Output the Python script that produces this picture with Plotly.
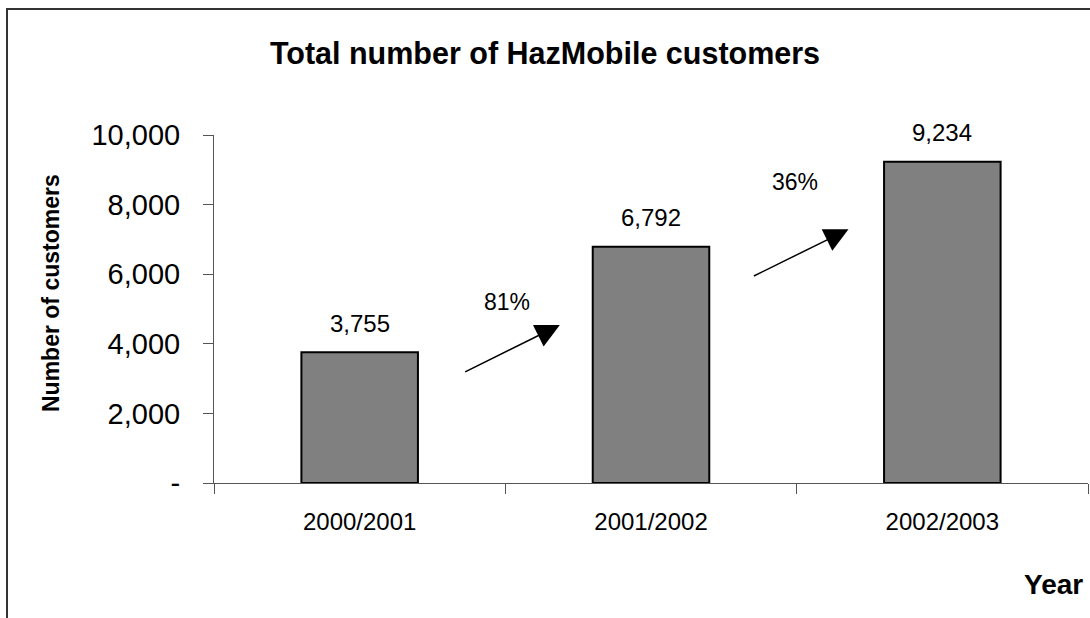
import plotly.graph_objects as go

categories = ["2000/2001", "2001/2002", "2002/2003"]
customers = [3755, 6792, 9234]
y_tick_vals = [0, 2000, 4000, 6000, 8000, 10000]
y_tick_text = ["-", "2,000", "4,000", "6,000", "8,000", "10,000"]

W, H = 1090, 618
L, R, T, B = 214, 2, 135, 135
PW, PH = W - L - R, H - T - B

def px(x):
    return (x - L) / PW

def py(y):
    return (H - B - y) / PH

FONT = "Liberation Sans, Arial, sans-serif"

fig = go.Figure()
fig.add_trace(go.Bar(
    x=categories, y=customers, width=0.4,
    marker=dict(color="#808080", line=dict(color="black", width=2)),
    hoverinfo="skip", showlegend=False,
))

# value labels
for c, v in zip(categories, customers):
    fig.add_annotation(x=c, y=v, text=f"{v:,}", showarrow=False, yanchor="middle",
                       yshift=29, font=dict(family=FONT, size=24, color="black"))

# growth arrows and percentages
growth = [round((customers[i + 1] / customers[i] - 1) * 100) for i in range(len(customers) - 1)]
arrow_pos = [((0.357, 3170), (0.687, 4540), (0.506, 5210)),
             ((1.348, 5928), (1.678, 7290), (1.494, 8658))]
for g, (start, end, lab) in zip(growth, arrow_pos):
    fig.add_annotation(x=end[0], y=end[1], ax=start[0], ay=start[1], xref="x", yref="y",
                       axref="x", ayref="y", showarrow=True, arrowhead=2, arrowsize=3.2,
                       arrowwidth=1.5, arrowcolor="black", text="")
    fig.add_annotation(x=lab[0], y=lab[1], xref="x", yref="y", text=f"{g}%", showarrow=False,
                       font=dict(family=FONT, size=23, color="black"))

# axis titles
fig.add_annotation(x=px(51), y=py(293), xref="paper", yref="paper", text="<b>Number of customers</b>",
                   textangle=-90, showarrow=False, xanchor="center", yanchor="middle",
                   font=dict(family=FONT, size=23, color="black"))
fig.add_annotation(x=px(1053), y=py(584), xref="paper", yref="paper", text="<b>Year</b>",
                   showarrow=False, xanchor="center", yanchor="middle",
                   font=dict(family=FONT, size=28, color="black"))

# outer border
fig.add_shape(type="rect", xref="paper", yref="paper", x0=px(7), y0=py(640), x1=px(1100), y1=py(9),
              line=dict(color="#333333", width=2), fillcolor="rgba(0,0,0,0)", layer="below")

fig.update_layout(
    width=W, height=H,
    margin=dict(l=L, r=R, t=T, b=B, pad=0),
    paper_bgcolor="white", plot_bgcolor="white",
    title=dict(text="<b>Total number of HazMobile customers</b>", x=0.5, xanchor="center",
               y=1 - 53 / H, yanchor="middle", font=dict(family=FONT, size=30.5, color="black")),
    font=dict(family=FONT, color="black"),
    bargap=0.6,
)
fig.update_xaxes(
    showline=True, linecolor="#555555", linewidth=1,
    ticks="outside", ticklen=10, tickcolor="#555555", tickson="boundaries",
    tickfont=dict(family=FONT, size=24, color="black"), ticklabelstandoff=17,
    showgrid=False, zeroline=False,
)
fig.update_yaxes(
    range=[0, 10000], showline=True, linecolor="#555555", linewidth=1,
    ticks="outside", ticklen=10, tickcolor="#555555",
    tickvals=y_tick_vals, ticktext=y_tick_text,
    tickfont=dict(family=FONT, size=29, color="black"), ticklabelstandoff=17,
    showgrid=False, zeroline=False,
)

fig.write_html("out.html", config={"displayModeBar": False},
               post_script="document.body.style.margin='0';document.body.style.overflow='hidden';")
